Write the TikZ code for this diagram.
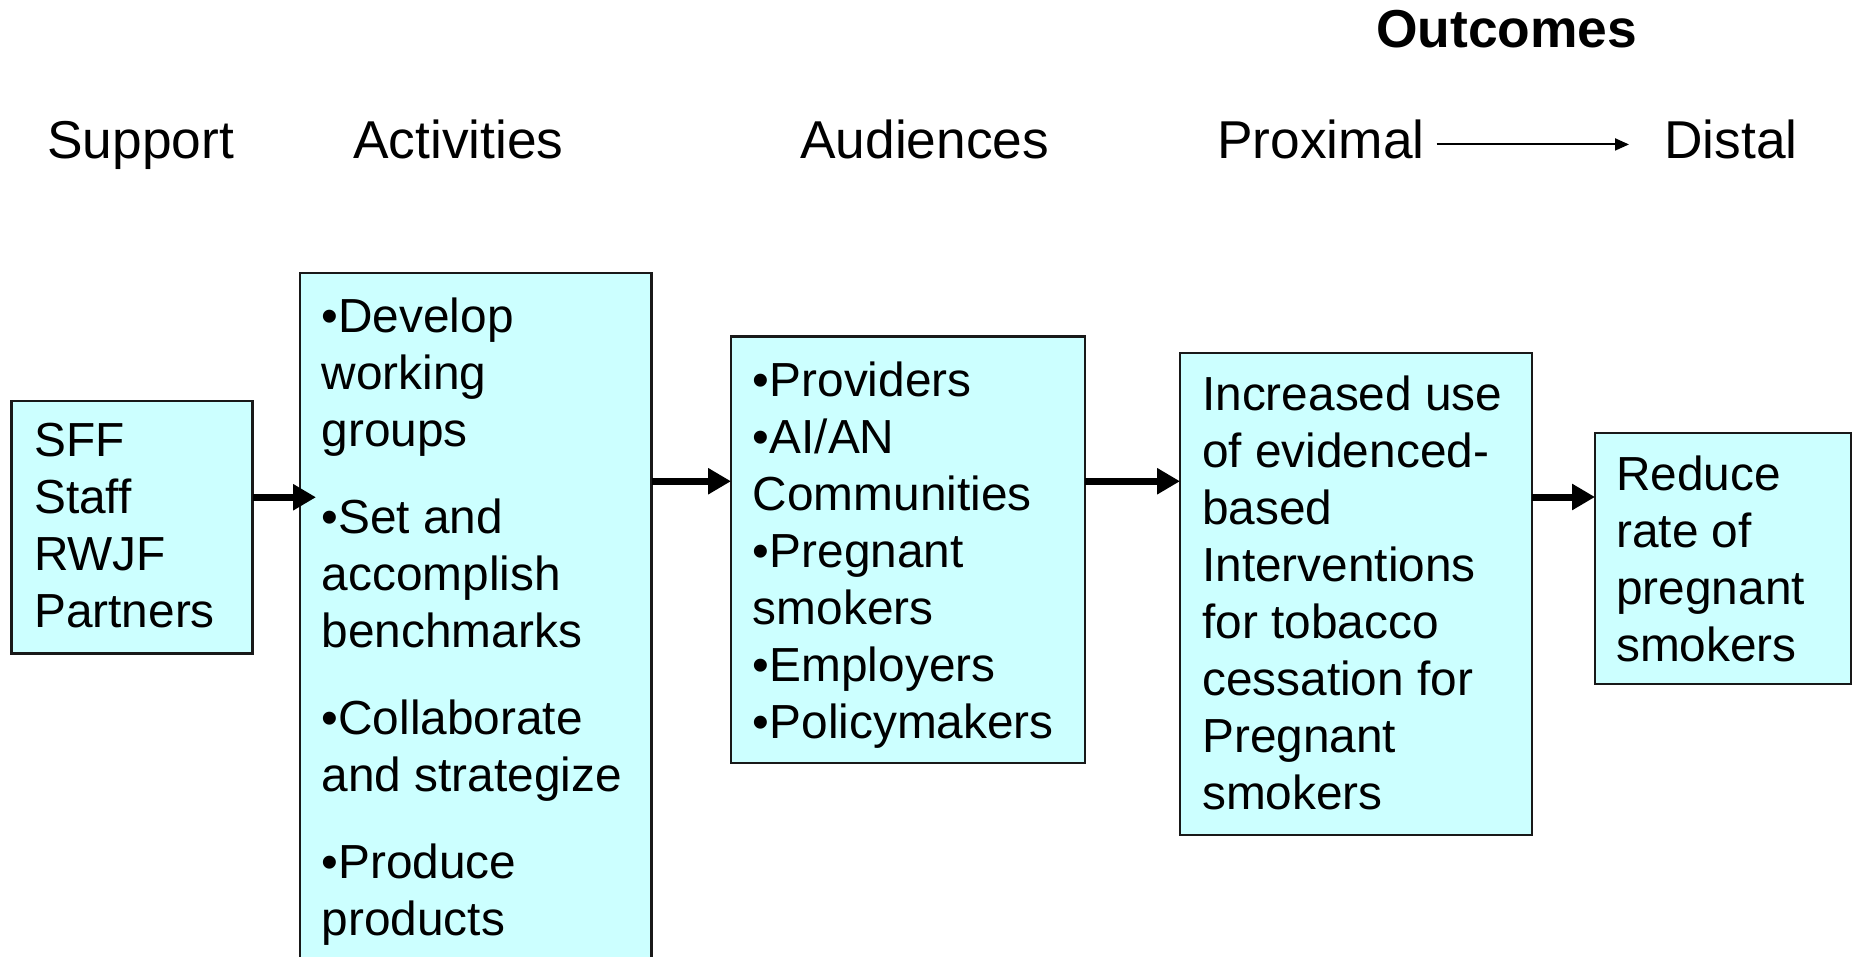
\documentclass[tikz,border=0pt]{standalone}
\usepackage{fontspec}
\setmainfont{Liberation Sans}
\usetikzlibrary{arrows.meta}
\definecolor{boxfill}{HTML}{CCFFFF}
\begin{document}
\begin{tikzpicture}[x=1pt,y=-1pt,
  box/.style={draw=black!90, line width=2.2pt, fill=boxfill, inner sep=0pt, outer sep=0pt, anchor=north west},
  boxtext/.style={inner sep=0pt, anchor=north west, align=left, font=\fontsize{47.8}{57}\selectfont},
  head/.style={inner sep=0pt, anchor=base west, font=\fontsize{53.3}{62}\selectfont},
  arr/.style={line width=7pt, -{Triangle[length=23pt,width=25pt]}},
  harr/.style={line width=2pt, -{Triangle[length=14pt,width=12pt]}}]
\useasboundingbox (0,0) rectangle (1856,957);
% headers
\node[head, font=\fontsize{53.4}{62}\selectfont\bfseries] (outc) at (1376,48) {Outcomes};
\node[head] (hsup) at (47,159) {Support};
\node[head] (hact) at (353,159) {Activities};
\node[head] (haud) at (800,159) {Audiences};
\node[head] (hprox) at (1217,159) {Proximal};
\node[head] (hdist) at (1664,159) {Distal};
\draw[harr] ([xshift=12pt,yshift=-4.5pt]hprox.east) -- ([xshift=-35pt,yshift=-4.5pt]hdist.west);
% boxes
\node[box, minimum width=241pt, minimum height=252.5pt] (sup) at (11.5,401) {};
\node[box, minimum width=351.5pt, minimum height=702pt] (act) at (300,273) {};
\node[box, minimum width=354pt, minimum height=426.5pt] (aud) at (731,336.5) {};
\node[box, minimum width=352pt, minimum height=482pt] (prox) at (1180,353) {};
\node[box, minimum width=256pt, minimum height=251pt] (dis) at (1595,433) {};
% texts
\node[boxtext] (tsup) at (34,423) {SFF\\Staff\\RWJF\\Partners};
\node[boxtext] (tact) at (321.5,297.5) {•Develop\\working\\groups\\[30pt]•Set and\\accomplish\\benchmarks\\[30pt]•Collaborate\\and strategize\\[30pt]•Produce\\products};
\node[boxtext] (taud) at (752.7,362) {•Providers\\•AI/AN\\Communities\\•Pregnant\\smokers\\•Employers\\•Policymakers};
\node[boxtext] (tprox) at (1202,376) {Increased use\\of evidenced-\\based\\Interventions\\for tobacco\\cessation for\\Pregnant\\smokers};
\node[boxtext] (tdis) at (1616,456) {Reduce\\rate of\\pregnant\\smokers};
% connectors
\coordinate (y1) at ([yshift=30pt]sup.east);
\coordinate (t1) at ([xshift=16pt]act.west);
\draw[arr] (y1) -- (y1 -| t1);
\coordinate (y2) at ([yshift=68.5pt]aud.west);
\draw[arr] (act.east |- y2) -- (y2);
\coordinate (y3) at ([yshift=68.5pt]aud.east);
\draw[arr] (y3) -- (y3 -| prox.west);
\coordinate (y4) at ([yshift=61.5pt]dis.west);
\draw[arr] (y4 -| prox.east) -- (y4);
\end{tikzpicture}
\end{document}
